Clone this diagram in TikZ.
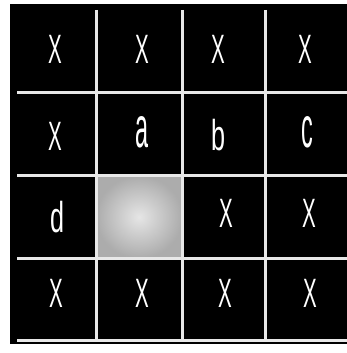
\documentclass[tikz,border=0pt]{standalone}
\usepackage{fontspec}
\setmainfont{Liberation Sans}
\begin{document}
\begin{tikzpicture}[x=1pt,y=-1pt,
  gridline/.style={draw=gray!18,line width=3pt},
  bigx/.style={text=white,inner sep=0pt,font=\fontsize{41}{41}\selectfont},
  lowr/.style={text=white,inner sep=0pt,font=\fontsize{36}{36}\selectfont}]
\useasboundingbox (0,0) rectangle (347,353);
\fill[white] (0,0) rectangle (347,353);
\fill[black] (10,4) rectangle (347,344);
\shade[inner color=gray!20,outer color=gray!65] (96,176) rectangle (182,258);
% grid
\coordinate (v1t) at (96,10);  \coordinate (v1b) at (96,340);
\coordinate (v2t) at (182,10); \coordinate (v2b) at (182,340);
\coordinate (v3t) at (265,10); \coordinate (v3b) at (265,340);
\coordinate (h1l) at (17,92);  \coordinate (h1r) at (347,92);
\coordinate (h2l) at (17,175); \coordinate (h2r) at (347,175);
\coordinate (h3l) at (17,258); \coordinate (h3r) at (347,258);
\coordinate (h4l) at (17,340); \coordinate (h4r) at (347,340);
\draw[gridline] (v1t) -- (v1b);
\draw[gridline] (v2t) -- (v2b);
\draw[gridline] (v3t) -- (v3b);
\draw[gridline] (h1l) -- (h1r);
\draw[gridline] (h2l) -- (h2r);
\draw[gridline] (h3l) -- (h3r);
\draw[gridline] (h4l) -- (h4r);
% row 1
\node[bigx] (r1c1) at (55,49) {\scalebox{0.5}[1]{X}};
\node[bigx] (r1c2) at (142,49) {\scalebox{0.5}[1]{X}};
\node[bigx] (r1c3) at (218,49) {\scalebox{0.5}[1]{X}};
\node[bigx] (r1c4) at (305,49) {\scalebox{0.5}[1]{X}};
% row 2
\node[bigx] (r2c1) at (55,136) {\scalebox{0.5}[1]{X}};
\node[lowr] (r2c2) at (142,132) {\scalebox{0.65}[1.6]{a}};
\node[lowr] (r2c3) at (219,135) {\scalebox{0.7}[1.2]{b}};
\node[lowr] (r2c4) at (307,132) {\scalebox{0.65}[1.6]{c}};
% row 3
\node[lowr] (r3c1) at (58,217) {\scalebox{0.7}[1.2]{d}};
\node[bigx] (r3c3) at (226,213) {\scalebox{0.5}[1]{X}};
\node[bigx] (r3c4) at (309,213) {\scalebox{0.5}[1]{X}};
% row 4
\node[bigx] (r4c1) at (56,293) {\scalebox{0.5}[1]{X}};
\node[bigx] (r4c2) at (142,293) {\scalebox{0.5}[1]{X}};
\node[bigx] (r4c3) at (225,293) {\scalebox{0.5}[1]{X}};
\node[bigx] (r4c4) at (310,293) {\scalebox{0.5}[1]{X}};
\end{tikzpicture}
\end{document}
